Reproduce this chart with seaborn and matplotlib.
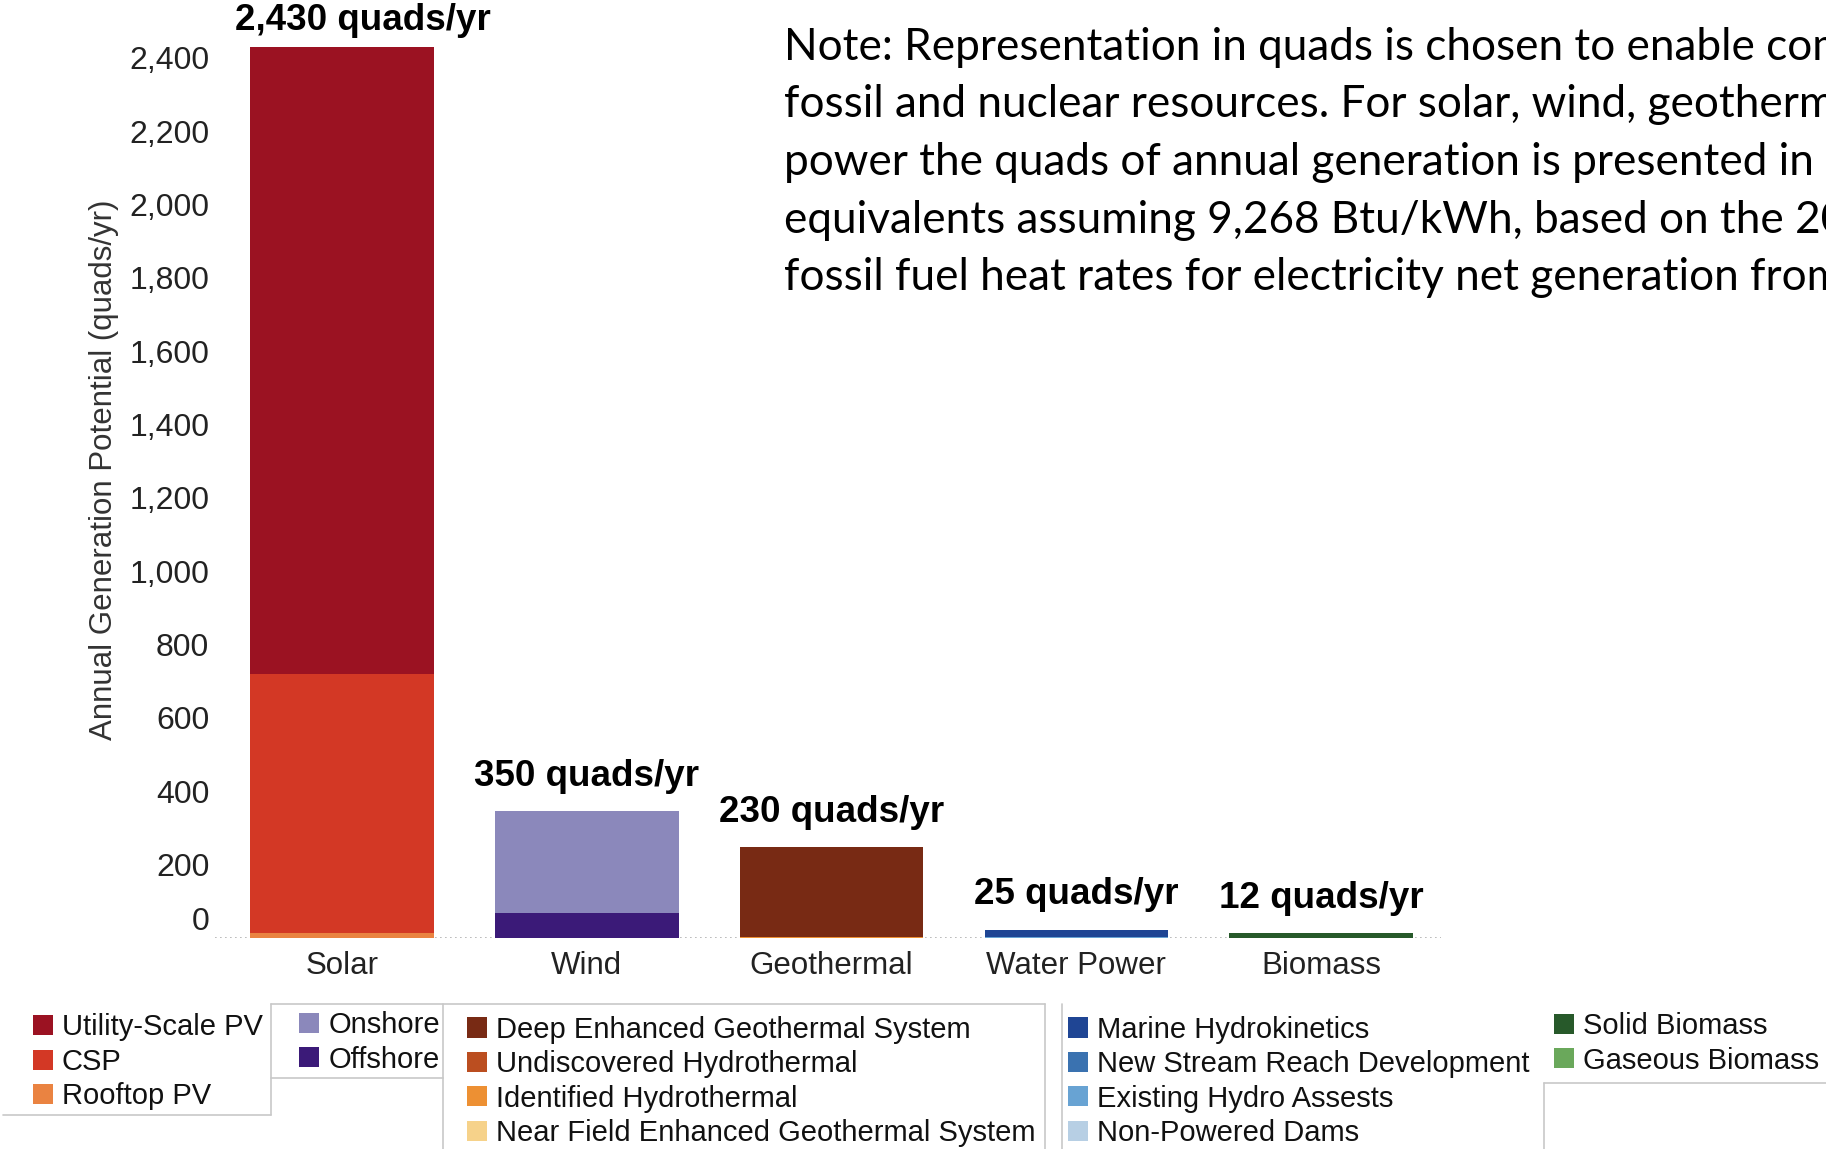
import matplotlib
matplotlib.use("Agg")
import matplotlib.pyplot as plt
import seaborn as sns
import pandas as pd
from matplotlib.patches import Patch
from matplotlib.lines import Line2D
from matplotlib.transforms import ScaledTranslation
from matplotlib.ticker import FuncFormatter

# data (quads/yr), sub-types listed top of stack first
sources = ["Solar", "Wind", "Geothermal", "Water Power", "Biomass"]

solar_types = ["Utility-Scale PV", "CSP", "Rooftop PV"]
solar_values = [1710, 706, 14]
wind_types = ["Onshore", "Offshore"]
wind_values = [280, 67]
geo_types = ["Deep Enhanced Geothermal System", "Undiscovered Hydrothermal",
             "Identified Hydrothermal", "Near Field Enhanced Geothermal System"]
geo_values = [244, 2, 1, 1]
water_types = ["Marine Hydrokinetics", "New Stream Reach Development",
               "Existing Hydro Assests", "Non-Powered Dams"]
water_values = [19, 2, 1, 1]
bio_types = ["Solid Biomass", "Gaseous Biomass"]
bio_values = [12, 1]

total_labels = ["2,430 quads/yr", "350 quads/yr", "230 quads/yr", "25 quads/yr", "12 quads/yr"]

solar_colors = ["#9b1222", "#d33825", "#ea8341"]
wind_colors = ["#8b88bb", "#3b1a78"]
geo_colors = ["#782a14", "#bb4e20", "#ed9033", "#f6d28a"]
water_colors = ["#1f4594", "#3a72b0", "#68a3d3", "#b7cfe4"]
bio_colors = ["#27592a", "#6aa85b"]

note_lines = [
    "Note: Representation in quads is chosen to enable comparison with",
    "fossil and nuclear resources. For solar, wind, geothermal and water",
    "power the quads of annual generation is presented in fossil fuel",
    "equivalents assuming 9,268 Btu/kWh, based on the 2015 average",
    "fossil fuel heat rates for electricity net generation from EIA.",
]

groups = [
    (solar_types, solar_values, solar_colors),
    (wind_types, wind_values, wind_colors),
    (geo_types, geo_values, geo_colors),
    (water_types, water_values, water_colors),
    (bio_types, bio_values, bio_colors),
]

# long table with cumulative heights (bottom of stack = last type)
rows = []
for src, (types, vals, cols) in zip(sources, groups):
    for j, t in enumerate(types):
        rows.append({"source": src, "type": t, "cum": sum(vals[j:])})
df = pd.DataFrame(rows)

hue_order = [t for g in groups for t in g[0]]
palette = {t: c for g in groups for t, c in zip(g[0], g[2])}
totals = [sum(g[1]) for g in groups]

sns.set_style("white")
plt.rcParams["font.family"] = ["Liberation Sans", "DejaVu Sans"]

fig = plt.figure(figsize=(18.26, 11.49), dpi=100)
ax = fig.add_axes([0.1177, 0.1836, 0.6714, 0.782])

sns.barplot(data=df, x="source", y="cum", hue="type", order=sources,
            hue_order=hue_order, palette=palette, dodge=False, width=0.75,
            saturation=1, errorbar=None, legend=False, linewidth=0, ax=ax)

ax.set_xlim(-0.52, 4.49)
ax.set_ylim(0, 2450)
ax.set_yticks(range(0, 2401, 200))
ax.yaxis.set_major_formatter(FuncFormatter(lambda v, p: f"{int(v):,}"))
for s in ax.spines.values():
    s.set_visible(False)
ax.axhline(0, color="#b0b0b0", linestyle=(0, (1, 2)), linewidth=1.2, zorder=0)
ax.tick_params(axis="y", labelsize=23, colors="#dddddd", labelcolor="#222222",
               length=3, width=1, pad=1)
ax.tick_params(axis="x", labelsize=22.5, labelcolor="#222222", length=0, pad=9)
ax.set_xlabel("")
ax.set_ylabel("Annual Generation Potential (quads/yr)", fontsize=22.5, color="#333333")
ax.yaxis.set_label_coords(-0.078, 0.521)

# the "0" label sits a bit above the baseline in the original
zero_lab = ax.get_yticklabels()[0]
zero_lab.set_transform(zero_lab.get_transform() + ScaledTranslation(0, 14 / 72, fig.dpi_scale_trans))

for i, lab in enumerate(total_labels):
    dx, dy = (15, 19) if i == 0 else (0, 25)
    ax.annotate(lab, (i, totals[i]), xytext=(dx, dy), textcoords="offset points",
                ha="center", va="center", fontsize=26.5, fontweight="bold", color="black")

# note text, runs off the right edge like the source slide
for k, line in enumerate(note_lines):
    fig.text(784 / 1826, 1 - (47 + k * 57.7) / 1149, line, family=["Lato", "DejaVu Sans"],
             fontsize=31.8, ha="left", va="center", color="black")

# legends
leg_anchor = [(0.018, 0.118), (0.164, 0.120), (0.256, 0.116), (0.585, 0.116), (0.851, 0.119)]
for (types, vals, cols), anc in zip(groups, leg_anchor):
    handles = [Patch(facecolor=c, edgecolor="none") for c in cols]
    leg = fig.legend(handles, types, loc="upper left", bbox_to_anchor=anc,
                     frameon=False, borderpad=0, borderaxespad=0,
                     handlelength=0.68, handleheight=0.68, handletextpad=0.31,
                     labelspacing=0.22,
                     prop={"family": ["Liberation Sans Narrow", "Liberation Sans"], "size": 21})
    for t in leg.get_texts():
        t.set_color("#111111")

# thin frame lines around the legend groups
W, H = 1826, 1149
seg = [
    ((271, 1045), (1004, 1004)),
    ((271, 271), (1004, 1115)),
    ((3, 271), (1115, 1115)),
    ((443, 443), (1004, 1149)),
    ((271, 443), (1078, 1078)),
    ((1045, 1045), (1004, 1149)),
    ((1062, 1062), (1004, 1149)),
    ((1544, 1826), (1083, 1083)),
    ((1544, 1544), (1083, 1149)),
]
for xs, ys in seg:
    fig.add_artist(Line2D([x / W for x in xs], [1 - y / H for y in ys],
                          color="#c8c8c8", linewidth=1.2))

fig.savefig("out.png", dpi=100)
